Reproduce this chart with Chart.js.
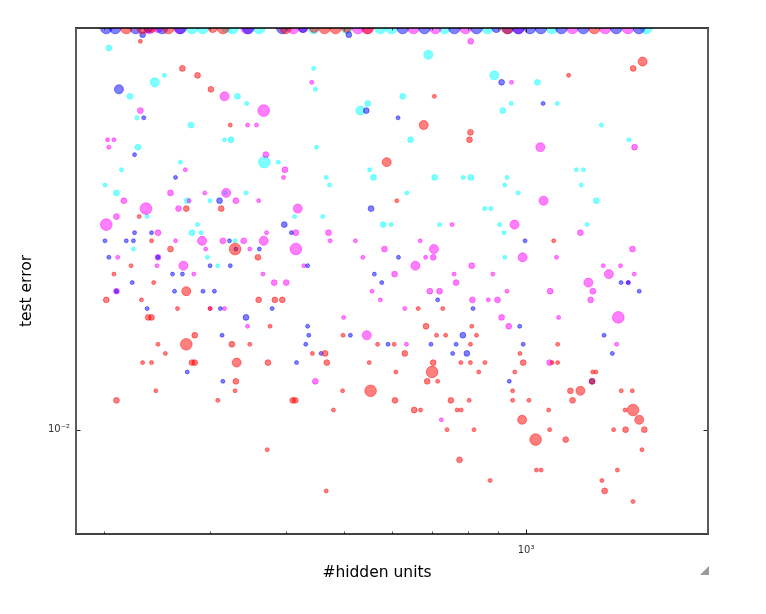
<!DOCTYPE html>
<html>
<head>
<meta charset="utf-8">
<script src="https://cdn.jsdelivr.net/npm/chart.js@4.4.1/dist/chart.umd.min.js"></script>
<style>
html,body{margin:0;padding:0;background:#fff;}
canvas{display:block;}
</style>
</head>
<body>
<canvas id="c" width="766" height="614"></canvas>
<script>
// ---- axis ticks ----
const xMajorTicks = [1000];
const xTickLabels = ['10\u00B3'];
const xMinorTicks = [200, 300, 400, 500, 600, 700, 800, 900, 2000];
const yMajorTicks = [0.01];
const yTickLabels = ['10\u207B\u00B2'];
const xTitle = '#hidden units';
const yTitle = 'test error';

// ---- red series ----
const redUnits = [230,270,286,301,324,274,313,229,240,330,
258,360,222,208,242,202,274,231,265,300,
237,240,361,384,395,377,283,246,274,326,
349,253,232,240,280,283,332,374,331,244,
330,210,309,411,415,373,705,677,809,806,
588,611,1559,1504,1176,1111,663,728,498,683,
813,711,736,828,568,605,809,443,465,630,
468,550,702,780,809,855,609,699,835,686,
714,497,553,607,751,805,480,653,669,769,
781,740,820,776,872,467,1128,977,989,1104,
1128,958,1289,1305,1286,950,1184,1230,1437,1499,
950,1011,1194,1090,1458,1503,1539,985,1094,1396,
1461,1569,1037,1163,1555,1040,1059,1416,1335,1349,
1503,
218,232,240,256,303,315,400,446,464,484,505,547,931,1297];
const redError = [.0148,.0144,.0143,.0141,.0136,.0125,.0125,.0124,.0121,.0120,
.0120,.0119,.0118,.0117,.0116,.0114,.0115,.0114,.0113,.0113,
.0112,.0112,.0114,.0114,.0114,.0111,.0110,.0109,.0109,.0109,
.0109,.0108,.0107,.0107,.0107,.0107,.0107,.0107,.0105,.0104,
.0104,.0103,.0103,.0103,.0103,.0098,.0140,.0136,.0135,.0134,
.0131,.0126,.0145,.0144,.0143,.0121,.0113,.0113,.0110,.0111,
.0111,.0110,.0110,.0110,.0109,.0109,.0109,.0108,.0108,.0108,
.0107,.0107,.0107,.0107,.0107,.0107,.0106,.0106,.0106,.0105,
.0105,.0104,.0104,.0103,.0103,.0103,.0102,.0102,.0102,.0102,
.0102,.0100,.0100,.0097,.0095,.0094,.0109,.0108,.0107,.0107,
.0107,.0106,.0106,.0106,.0105,.0104,.0104,.0104,.0104,.0104,
.0103,.0103,.0103,.0102,.0102,.0102,.0101,.0101,.0100,.0100,
.0100,.0100,.0099,.0099,.0098,.0096,.0096,.0096,.0095,.0094,
.0093,
.0150,.0150,.0150,.0150,.0150,.0150,.0150,.0150,.0150,.0150,.0150,.0150,.0150,.0150];
const redLevel = [1,2,2,2,1,2,2,1,1,4,
2,2,1,1,1,2,3,1,1,1,
2,2,2,2,2,1,2,1,4,2,
1,1,1,1,2,2,3,2,2,1,
1,2,1,2,2,1,1,3,2,2,
3,1,3,2,1,1,1,1,1,2,
1,1,1,1,1,1,1,1,2,2,
2,1,2,1,1,1,1,4,1,2,
1,1,4,2,2,1,1,2,1,1,
1,1,1,2,1,1,1,1,2,1,
1,1,1,1,2,1,2,3,1,1,
1,1,2,1,1,4,3,3,1,1,
2,2,4,2,1,1,1,1,1,2,
1,
4,4,3,4,3,4,4,3,4,4,3,4,4,4];

// ---- blue series ----
const blueUnits = [212,233,225,263,311,398,225,240,409,201,
218,224,323,331,362,204,246,300,324,260,
270,223,210,262,292,305,236,312,380,344,
314,417,275,315,232,509,911,544,614,554,
435,615,561,577,1067,996,1436,1476,714,817,
435,437,432,512,786,591,696,766,458,756,
798,1539,976,1346,1389,989,938,1286,
202,209,226,237,250,268,347,395,427,625,679,761,828,893,933,971,1015,1058,1144,1244,1410,1537];
const blueError = [.0141,.0137,.0132,.0129,.0126,.0123,.0122,.0122,.0122,.0121,
.0121,.0121,.0121,.0120,.0120,.0119,.0119,.0118,.0118,.0117,
.0117,.0116,.0115,.0115,.0115,.0115,.0113,.0113,.0113,.0112,
.0110,.0107,.0106,.0105,.0149,.0149,.0142,.0138,.0137,.0125,
.0118,.0119,.0117,.0116,.0139,.0121,.0116,.0116,.0114,.0113,
.0111,.0110,.0109,.0110,.0110,.0109,.0109,.0109,.0108,.0108,
.0108,.0115,.0111,.0110,.0108,.0109,.0105,.0105,
.0150,.0150,.0150,.0150,.0150,.0150,.0150,.0150,.0150,.0150,.0150,.0150,.0150,.0150,.0150,.0150,.0150,.0150,.0150,.0150,.0150,.0150];
const blueLevel = [3,1,1,1,2,2,1,1,1,1,
1,1,1,1,1,1,1,1,1,1,
1,1,1,1,1,1,1,1,1,2,
1,1,1,1,2,2,2,2,1,2,
1,1,1,1,1,1,1,1,1,1,
1,1,1,1,2,1,1,1,1,1,
2,1,1,1,1,1,1,2,
4,4,4,3,4,4,4,4,3,4,4,4,4,3,4,4,4,4,4,4,4,4];

// ---- cyan series ----
const cyanUnits = [204,252,243,221,333,345,227,279,317,325,
228,369,389,268,214,201,210,318,344,300,
275,236,414,286,280,290,330,224,297,309,
689,445,448,886,625,547,532,644,915,945,
450,551,559,467,473,706,787,810,930,922,
635,461,854,874,580,598,719,904,919,922,
1044,1126,1332,1480,1211,1244,1234,970,1307,1261,
280,292,319,327,362,445,505,574,599,733,863,1104,1581];
const cyanError = [.0147,.0143,.0142,.0140,.0140,.0139,.0137,.0136,.0134,.0134,
.0133,.0131,.0131,.0131,.0130,.0128,.0127,.0127,.0127,.0126,
.0126,.0124,.0124,.0123,.0122,.0122,.0121,.0120,.0119,.0118,
.0146,.0144,.0141,.0143,.0140,.0139,.0138,.0134,.0138,.0139,
.0133,.0130,.0129,.0129,.0128,.0129,.0129,.0129,.0129,.0128,
.0127,.0124,.0125,.0125,.0123,.0123,.0123,.0123,.0122,.0119,
.0142,.0139,.0136,.0134,.0130,.0130,.0128,.0127,.0126,.0123,
.0150,.0150,.0150,.0150,.0150,.0150,.0150,.0150,.0150,.0150,.0150,.0150,.0150];
const cyanLevel = [2,1,3,2,2,1,1,2,1,2,
2,4,1,1,1,1,2,1,1,1,
2,1,1,1,2,1,1,1,1,1,
3,1,1,3,2,2,3,2,2,1,
1,1,2,1,1,2,1,2,1,1,
1,1,1,1,2,1,1,1,1,1,
2,1,1,1,1,1,1,1,2,1,
4,4,3,4,4,4,4,4,4,4,4,4,4];

// ---- magenta series ----
const magentaUnits = [317,368,230,346,358,203,208,204,371,399,
397,273,216,258,294,319,361,331,277,266,
235,210,202,246,372,263,291,315,341,368,
295,349,246,211,245,271,282,367,383,401,
210,810,442,946,419,754,416,471,474,522,
668,416,583,704,702,682,537,429,656,813,
606,760,881,766,1056,1512,1069,957,1230,987,
1123,1500,1342,1433,1371,1510,1268,1476,317,346,
300,556,574,693,719,815,866,897,930,630,
499,911,936,545,634,448,724,1096,1290,1279,
1132,1421,1412,1094,
238,246,267,345,412,428,527,546,651,708,794,972,1193,1352,1474];
const magentaError = [.0140,.0138,.0138,.0136,.0136,.0134,.0134,.0133,.0132,.0130,
.0129,.0130,.0126,.0127,.0127,.0127,.0126,.0126,.0126,.0125,
.0125,.0124,.0123,.0122,.0122,.0121,.0121,.0121,.0121,.0121,
.0120,.0120,.0119,.0119,.0118,.0118,.0117,.0117,.0116,.0116,
.0115,.0148,.0142,.0142,.0125,.0123,.0122,.0122,.0121,.0121,
.0121,.0120,.0120,.0120,.0119,.0119,.0119,.0118,.0118,.0118,
.0117,.0117,.0117,.0116,.0133,.0133,.0126,.0123,.0122,.0119,
.0119,.0120,.0118,.0118,.0117,.0117,.0116,.0116,.0113,.0111,
.0113,.0115,.0114,.0115,.0115,.0114,.0114,.0114,.0115,.0113,
.0112,.0112,.0111,.0110,.0109,.0105,.0101,.0115,.0115,.0114,
.0112,.0112,.0109,.0107,
.0150,.0150,.0150,.0150,.0150,.0150,.0150,.0150,.0150,.0150,.0150,.0150,.0150,.0150,.0150];
const magentaLevel = [3,4,2,1,1,1,1,1,2,2,
1,1,2,2,1,3,1,2,1,2,
4,2,4,2,1,1,3,2,2,3,
1,1,2,1,1,3,1,1,2,2,
2,2,1,1,3,1,2,2,1,1,
1,4,2,3,2,1,1,1,3,2,
2,1,1,2,3,2,3,3,2,3,
1,2,1,1,3,1,3,1,1,1,
1,1,1,2,2,2,1,2,1,1,
1,2,2,3,1,2,1,2,2,2,
1,4,1,2,
4,3,4,4,4,3,4,4,4,4,4,4,4,4,4];

// ---- build chart ----
const RADIUS = {1: 2.0, 2: 2.9, 3: 4.5, 4: 5.8};
function pts(u, e, l) { return u.map((v, i) => ({x: v, y: e[i], lv: l[i]})); }
function ds(label, u, e, l, rgb) {
  return {
    label, data: pts(u, e, l),
    backgroundColor: 'rgba(' + rgb + ',0.5)',
    borderColor: 'rgba(' + rgb + ',0.45)',
    borderWidth: 1,
    pointRadius: c => RADIUS[c.raw.lv],
    pointHoverRadius: c => RADIUS[c.raw.lv],
    clip: 0
  };
}

const decor = {
  id: 'decor',
  afterDatasetsDraw(chart) {
    const {ctx, chartArea: a, scales: {x, y}} = chart;
    ctx.save();
    const line = (x1, y1, x2, y2) => { ctx.beginPath(); ctx.moveTo(x1, y1); ctx.lineTo(x2, y2); ctx.stroke(); };
    ctx.lineWidth = 1;
    ctx.strokeStyle = '#555';
    xMinorTicks.forEach(v => {
      const p = Math.round(x.getPixelForValue(v)) + 0.5;
      line(p, a.bottom, p, a.bottom - 2.5);
      line(p, a.top, p, a.top + 2.5);
    });
    ctx.strokeStyle = '#222';
    xMajorTicks.forEach(v => {
      const p = Math.round(x.getPixelForValue(v)) + 0.5;
      line(p, a.bottom, p, a.bottom - 4.5);
      line(p, a.top, p, a.top + 4.5);
    });
    yMajorTicks.forEach(v => {
      const p = Math.round(y.getPixelForValue(v)) + 0.5;
      line(a.left, p, a.left + 4.5, p);
      line(a.right, p, a.right - 4.5, p);
    });
    ctx.strokeStyle = '#000';
    ctx.lineWidth = 1.6;
    line(a.left - 1, a.top, a.right + 1, a.top);
    line(a.left - 1, a.bottom, a.right + 1, a.bottom);
    ctx.strokeStyle = '#5a5a5a';
    ctx.lineWidth = 2;
    line(a.left, a.top, a.left, a.bottom);
    line(a.right, a.top, a.right, a.bottom);
    ctx.restore();
  },
  afterDraw(chart) {
    const {ctx} = chart;
    ctx.save();
    ctx.fillStyle = '#000';
    ctx.font = '15.5px "DejaVu Sans"';
    ctx.textAlign = 'center';
    ctx.textBaseline = 'middle';
    ctx.fillText(xTitle, 377, 573);
    ctx.translate(27, 291);
    ctx.rotate(-Math.PI / 2);
    ctx.fillText(yTitle, 0, 0);
    ctx.restore();
    // resize grip
    ctx.save();
    ctx.fillStyle = '#9a9a9a';
    ctx.beginPath();
    ctx.moveTo(709, 566); ctx.lineTo(709, 575); ctx.lineTo(700, 575); ctx.closePath();
    ctx.fill();
    ctx.restore();
  }
};

new Chart(document.getElementById('c'), {
  type: 'scatter',
  data: {
    datasets: [
      ds('red', redUnits, redError, redLevel, '255,0,0'),
      ds('blue', blueUnits, blueError, blueLevel, '0,0,255'),
      ds('magenta', magentaUnits, magentaError, magentaLevel, '255,0,255'),
      ds('cyan', cyanUnits, cyanError, cyanLevel, '0,255,255')
    ]
  },
  options: {
    responsive: false,
    animation: false,
    devicePixelRatio: 1,
    layout: {padding: {top: 28, right: 58, left: 0, bottom: 0}},
    plugins: {legend: {display: false}, tooltip: {enabled: false}},
    scales: {
      x: {
        type: 'logarithmic', min: 180, max: 2000,
        grid: {display: false, drawTicks: false},
        border: {display: false},
        afterBuildTicks: s => { s.ticks = xMajorTicks.map(v => ({value: v})); },
        afterFit: s => { s.height = 80; },
        ticks: {
          autoSkip: false, maxRotation: 0, padding: 10,
          color: '#333', font: {family: 'DejaVu Sans', size: 10},
          callback: (v, i) => xTickLabels[i]
        }
      },
      y: {
        type: 'logarithmic', min: 0.009, max: 0.015,
        grid: {display: false, drawTicks: false},
        border: {display: false},
        afterBuildTicks: s => { s.ticks = yMajorTicks.map(v => ({value: v})); },
        afterFit: s => { s.width = 76; },
        ticks: {
          autoSkip: false, padding: 6,
          color: '#333', font: {family: 'DejaVu Sans', size: 10},
          callback: (v, i) => yTickLabels[i]
        }
      }
    }
  },
  plugins: [decor]
});
</script>
</body>
</html>
